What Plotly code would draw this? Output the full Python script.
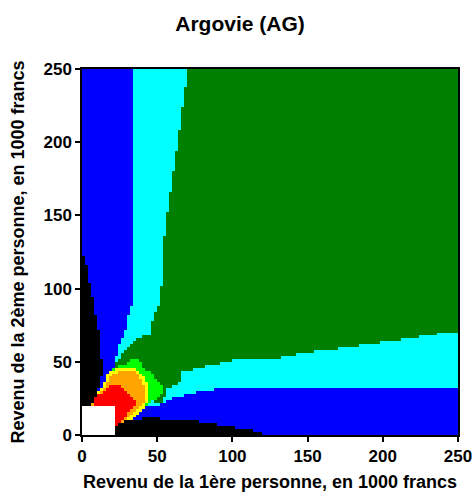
import numpy as np
import plotly.graph_objects as go

TITLE = "Argovie (AG)"
X_LABEL = "Revenu de la 1ère personne, en 1000 francs"
Y_LABEL = "Revenu de la 2ème personne, en 1000 francs"
TICKS = [0, 50, 100, 150, 200, 250]

# category codes and colours of the map
LEVELS = [0, 1, 2, 3, 4, 5, 6, 7, 8]
LEVEL_COLORS = ["#FFFFFF", "#000000", "#0000FF", "#00FFFF", "#008000",
                "#00FF00", "#FFFF00", "#FFA500", "#FF0000"]

# region outlines (x, y in 1000 francs)
cyan_x = [0, 70.7, 54.5, 54, 52, 52, 50, 47.6, 46, 45.5, 41, 36, 33.2, 31, 26.6, 22.2, 20,
          40, 53, 55.5, 56.5, 60, 65, 66.5, 67, 77, 85, 96, 103, 125, 134, 147, 162, 177,
          191.5, 206, 220, 231, 250, 250, 0]
cyan_y = [250, 250, 133, 104, 101, 89, 86, 80, 77, 68, 67.5, 66, 62.6, 59.2, 54.6, 49, 44,
          25, 22, 26, 31, 33, 35, 40, 43.5, 45.5, 47.5, 50, 51.5, 51.7, 53.4, 56, 58, 60,
          62, 64.4, 66, 68.3, 71, 0, 0]

blue_x = [0, 34.4, 34.4, 32.8, 31, 29.5, 28.8, 26, 24, 22.2, 21, 19.5, 30, 43, 52, 55,
          60.7, 71.8, 83, 96, 250, 250, 0]
blue_y = [250, 250, 95, 88, 81, 75, 71.7, 64, 58, 51, 45.5, 43, 30, 20.5, 20.5, 22.7,
          25, 28.5, 30, 32.5, 32.5, 0, 0]

lightgreen_x = [20, 22, 28, 31, 33, 37, 39, 41, 44, 46.5, 48.8, 52, 53.5, 53.5, 50, 47,
                44, 41, 37, 33, 30, 25]
lightgreen_y = [44, 46.5, 47.5, 50, 52, 52, 49.5, 46, 44, 42, 38, 35.3, 33, 28, 25, 23,
                21, 18, 14.5, 11, 8, 20]

yellow_x = [4.5, 5, 9, 13, 15, 17, 20, 24, 36, 40.5, 43, 44.5, 44, 42, 38, 33.5, 30.5,
            28.5, 25.5, 22, 12]
yellow_y = [20, 26, 29.5, 32, 35.5, 41, 44, 45.5, 45.5, 41, 36, 30, 24, 19, 15, 10.5, 7,
            4, 1, 0, 10]

orange_x = [5.5, 6, 10, 14, 16.5, 19, 22, 25, 35, 38.5, 41, 42.5, 42, 40, 36.6, 32, 28.8,
            26.6, 24, 22, 12]
orange_y = [20, 25, 28, 30.5, 34, 39, 42, 43.5, 43.5, 39.5, 35, 30, 25, 20.4, 17, 12.5,
            9, 5.6, 3, 2, 10]

red_x = [7, 8, 13, 17, 20.5, 24, 28, 32, 36.5, 33, 30, 26.6, 23.5, 22, 15]
red_y = [20, 25, 28.5, 31.5, 34.5, 34.5, 30.7, 27.3, 22.7, 18.2, 13.6, 9, 6, 5, 10]

black_left_x = [0, 6.6, 8.4, 10, 11.5, 13.3, 14.4, 12.5, 12.2, 10.6, 8.4, 6.6, 4.4, 3.3,
                1.8, 0]
black_left_y = [20, 21, 24.5, 28.5, 34, 41, 47, 55, 66, 73, 85.4, 96.8, 106, 116,
                119.5, 124]

black_bottom_x = [22, 22, 25.5, 29, 36, 44, 52, 72, 85, 96, 107, 118, 120]
black_bottom_y = [0, 5.6, 8, 9.5, 10.5, 11.4, 11, 10, 8, 6, 4, 2.3, 0]

white_x = [0, 22, 22, 0]
white_y = [0, 0, 20, 20]

# order in which regions lie on top of each other
LAYERS = [
    (cyan_x, cyan_y, 3),
    (blue_x, blue_y, 2),
    (lightgreen_x, lightgreen_y, 5),
    (yellow_x, yellow_y, 6),
    (orange_x, orange_y, 7),
    (red_x, red_y, 8),
    (black_left_x, black_left_y, 1),
    (black_bottom_x, black_bottom_y, 1),
    (white_x, white_y, 0),
]
BASE_LEVEL = 4
CELL = 2.0


def inside(px, py, vx, vy):
    vx = np.asarray(vx, float)
    vy = np.asarray(vy, float)
    res = np.zeros(px.shape, bool)
    j = len(vx) - 1
    with np.errstate(divide="ignore", invalid="ignore"):
        for i in range(len(vx)):
            xi, yi, xj, yj = vx[i], vy[i], vx[j], vy[j]
            crosses = (yi > py) != (yj > py)
            if yj != yi:
                xint = (xj - xi) * (py - yi) / (yj - yi) + xi
                res ^= crosses & (px < xint)
            j = i
    return res


xs = np.arange(CELL / 2, 250, CELL)
ys = np.arange(CELL / 2, 250, CELL)
GX, GY = np.meshgrid(xs, ys)
Z = np.full(GX.shape, BASE_LEVEL, dtype=int)
for vx, vy, lev in LAYERS:
    Z[inside(GX, GY, vx, vy)] = lev

n = len(LEVELS)
colorscale = []
for k, c in enumerate(LEVEL_COLORS):
    colorscale.append([k / n, c])
    colorscale.append([(k + 1) / n, c])

fig = go.Figure(go.Heatmap(
    x=xs, y=ys, z=Z, zmin=-0.5, zmax=n - 0.5,
    colorscale=colorscale, showscale=False, hoverinfo="skip",
))

FAM = "Liberation Sans, Arial, sans-serif"
tick_font = dict(family=FAM, size=17, color="black", weight="bold")
label_font = dict(family=FAM, size=18, color="black", weight="bold")
axis_common = dict(
    range=[0, 250], tickvals=TICKS, ticktext=[str(t) for t in TICKS],
    showline=True, linecolor="black", linewidth=1.5, mirror=True,
    ticks="outside", ticklen=5, tickwidth=1.5, tickcolor="black",
    showgrid=False, zeroline=False, tickfont=tick_font, automargin=False,
)

fig.update_layout(
    width=476, height=496,
    margin=dict(l=82, r=18, t=69, b=61, autoexpand=False),
    paper_bgcolor="white", plot_bgcolor="white",
    title=dict(text=TITLE, x=240 / 476, xref="container", xanchor="center",
               y=1 - 24 / 496, yref="container", yanchor="middle", automargin=False,
               font=dict(family=FAM, size=21, color="black", weight="bold")),
    xaxis=dict(**axis_common, title=dict(text=X_LABEL, font=label_font, standoff=10)),
    yaxis=dict(**axis_common, title=dict(text=Y_LABEL, font=label_font, standoff=14)),
)

fig.write_html("out.html", config={"displayModeBar": False},
               post_script="document.body.style.margin='0';document.body.style.overflow='hidden';")
